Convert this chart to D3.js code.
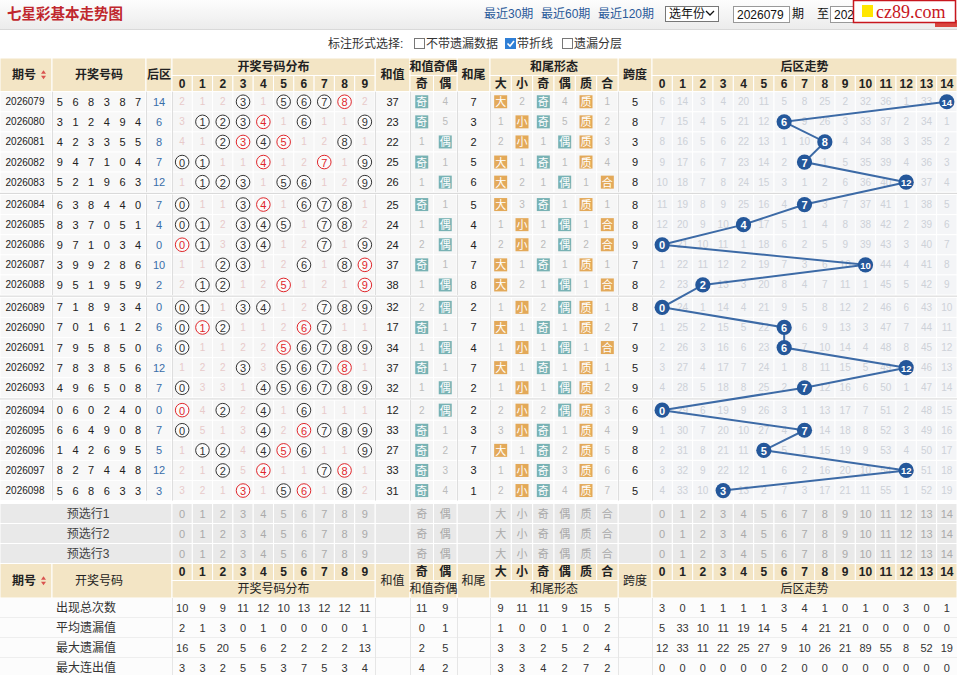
<!DOCTYPE html>
<html>
<head>
<meta charset="utf-8">
<title>七星彩基本走势图</title>
<script src="https://d3js.org/d3.v7.min.js"></script>
<style>
  body { margin: 0; background: #fff; }
  svg { display: block; }
</style>
</head>
<body>
<svg id="chart" width="957" height="675"></svg>
<script>
// 期号 / 开奖号码 / 后区
const periods = ["2026079","2026080","2026081","2026082","2026083","2026084","2026085","2026086","2026087","2026088",
                 "2026089","2026090","2026091","2026092","2026093","2026094","2026095","2026096","2026097","2026098"];
const frontNums = ["568387","312494","423355","947104","521963","638440","837051","971034","399286","951959",
                   "718934","701612","795850","783856","496508","060240","664908","142695","827448","568633"];
const backNums = [14, 6, 8, 7, 12, 7, 4, 0, 10, 2, 0, 6, 6, 12, 7, 0, 7, 5, 12, 3];

// 开奖号码分布: o = 号码, r = 红色号码, 数字 = 遗漏
const distMarks = [
  "2 1 2 o 1 o o o r 2", "3 o o o r 1 o 1 1 o", "4 1 o r o r 1 2 o 1", "o o 1 1 r 1 2 r 1 o",
  "1 o o o 1 o o 1 2 o", "o 1 1 o r 1 o o o 1", "o o 2 o o o 1 o o 2", "r o 3 o o 1 2 o 1 o",
  "1 1 o o 1 2 o 1 o r", "2 o o 1 2 r 1 2 1 r", "o o 1 o o 1 2 o o o", "o r o 1 1 2 r o 1 1",
  "o 1 1 2 2 r o o o o", "1 2 2 o 3 o o o r 1", "o 3 3 1 o o o o o o", "r 4 o 2 o 1 o 1 1 1",
  "o 5 1 3 o 2 r o o o", "1 o o 4 o r o 1 1 o", "2 1 o 5 r 1 1 o r 1", "3 2 1 r 1 o r 1 o 2"
];

const sums  = [37, 23, 22, 25, 26, 25, 24, 24, 37, 38, 32, 17, 34, 37, 32, 12, 33, 27, 33, 31];
const tails = [7, 3, 2, 5, 6, 5, 4, 4, 7, 8, 2, 7, 4, 7, 2, 2, 3, 7, 3, 1];
const spans = [5, 8, 3, 9, 8, 8, 8, 9, 7, 8, 8, 7, 9, 5, 9, 6, 9, 8, 6, 5];

const sumOE     = ["奇","奇","偶","奇","偶","奇","偶","偶","奇","偶","偶","奇","偶","奇","偶","偶","奇","奇","奇","奇"];
const sumOEMiss = [4, 5, 1, 1, 1, 1, 1, 2, 1, 1, 2, 1, 1, 1, 1, 2, 1, 2, 3, 4];
const tailBS     = ["大","小","小","大","大","大","小","小","大","大","小","大","小","大","小","小","小","大","小","小"];
const tailBSMiss = [2, 1, 2, 1, 2, 3, 1, 2, 1, 2, 1, 1, 1, 1, 1, 2, 3, 1, 1, 2];
const tailOE     = ["奇","奇","偶","奇","偶","奇","偶","偶","奇","偶","偶","奇","偶","奇","偶","偶","奇","奇","奇","奇"];
const tailOEMiss = [4, 5, 1, 1, 1, 1, 1, 2, 1, 1, 2, 1, 1, 1, 1, 2, 1, 2, 3, 4];
const tailPC     = ["质","质","质","质","合","质","合","合","质","合","质","质","合","质","质","质","质","质","质","质"];
const tailPCMiss = [1, 2, 3, 4, 1, 1, 1, 2, 1, 1, 1, 2, 1, 1, 2, 3, 4, 5, 6, 7];

// 后区走势遗漏
const trendMiss = [
  [6,14,3,4,20,11,5,8,25,2,32,36,1,33,0],
  [7,15,4,5,21,12,0,9,26,3,33,37,2,34,1],
  [8,16,5,6,22,13,1,10,0,4,34,38,3,35,2],
  [9,17,6,7,23,14,2,0,1,5,35,39,4,36,3],
  [10,18,7,8,24,15,3,1,2,6,36,40,0,37,4],
  [11,19,8,9,25,16,4,0,3,7,37,41,1,38,5],
  [12,20,9,10,0,17,5,1,4,8,38,42,2,39,6],
  [0,21,10,11,1,18,6,2,5,9,39,43,3,40,7],
  [1,22,11,12,2,19,7,3,6,10,0,44,4,41,8],
  [2,23,0,13,3,20,8,4,7,11,1,45,5,42,9],
  [0,24,1,14,4,21,9,5,8,12,2,46,6,43,10],
  [1,25,2,15,5,22,0,6,9,13,3,47,7,44,11],
  [2,26,3,16,6,23,0,7,10,14,4,48,8,45,12],
  [3,27,4,17,7,24,1,8,11,15,5,49,0,46,13],
  [4,28,5,18,8,25,2,0,12,16,6,50,1,47,14],
  [0,29,6,19,9,26,3,1,13,17,7,51,2,48,15],
  [1,30,7,20,10,27,4,0,14,18,8,52,3,49,16],
  [2,31,8,21,11,0,5,1,15,19,9,53,4,50,17],
  [3,32,9,22,12,1,6,2,16,20,10,54,0,51,18],
  [4,33,10,0,13,2,7,3,17,21,11,55,1,52,19]
];

// 统计
const statLabels = ["出现总次数","平均遗漏值","最大遗漏值","最大连出值"];
const statDist = [[10,9,9,11,12,10,13,12,12,11],[2,1,3,0,1,0,0,0,0,1],[16,5,20,5,6,2,2,2,2,13],[3,3,2,5,5,3,7,5,3,4]];
const statOE = [[11,9],[0,1],[2,5],[4,2]];
const statShape = [[9,11,11,9,15,5],[1,0,0,1,0,2],[3,3,2,5,2,4],[3,3,4,2,7,2]];
const statTrend = [[3,0,1,1,1,1,3,4,1,0,1,0,3,0,1],[5,33,10,11,19,14,5,4,21,21,0,0,0,0,0],
                   [12,33,11,22,25,27,9,10,26,21,89,55,8,52,19],[0,0,0,0,0,0,2,0,0,0,0,0,0,0,0]];
const predictLabels = ["预选行1","预选行2","预选行3"];

const digits = d3.range(10);
const trendCols = d3.range(15);
const oeLabels = ["奇","偶"];
const shapeLabels = ["大","小","奇","偶","质","合"];

const FONT = '"Liberation Sans","Noto Sans CJK SC",sans-serif';
const svg = d3.select("#chart").attr("font-family", FONT);

// 列
const xNum   = d3.scaleBand().domain(d3.range(6)).range([52, 146]);
const xDist  = d3.scaleBand().domain(digits).range([172, 375]);
const xOE    = d3.scaleBand().domain(oeLabels).range([410, 457]);
const xShape = d3.scaleBand().domain(d3.range(6)).range([490, 618]);
const xTrend = d3.scaleBand().domain(trendCols).range([652, 957]);
const single = { period: [0, 52], nums: [52, 146], back: [146, 172], sum: [375, 410], tail: [457, 490], span: [618, 652] };
const mid = k => (single[k][0] + single[k][1]) / 2;
const groupEdges = [0, 52, 146, 172, 375, 410, 457, 490, 618, 652, 957];

// 行
const rowH = 20.1, blockGap = 2.3;
const yRow = d3.scaleBand().domain(periods).range([91.7, 91.7 + rowH * periods.length]);
const rowTop = i => yRow(periods[i]) + Math.floor(i / 5) * blockGap;
const rowMid = i => rowTop(i) + rowH / 2;

function txt(g, x, y, s, o = {}) {
  return g.append("text").attr("x", x).attr("y", y)
    .attr("text-anchor", o.anchor || "middle").attr("dominant-baseline", "central")
    .attr("font-size", o.size || 11).attr("font-weight", o.weight || "normal")
    .attr("fill", o.fill || "#333").text(s);
}
function box(g, x0, x1, y0, y1, fill, stroke) {
  return g.append("rect").attr("x", x0).attr("y", y0).attr("width", x1 - x0).attr("height", y1 - y0)
    .attr("fill", fill).attr("stroke", stroke || "none").attr("stroke-width", 1);
}

// ---------- 顶部 ----------
const defs = svg.append("defs");
const topBar = svg.append("g");
const grad = defs.append("linearGradient").attr("id", "topg").attr("x1", 0).attr("x2", 0).attr("y1", 0).attr("y2", 1);
grad.append("stop").attr("offset", "0%").attr("stop-color", "#fdfdfd");
grad.append("stop").attr("offset", "100%").attr("stop-color", "#ececec");
topBar.append("rect").attr("x", 0).attr("y", 0).attr("width", 957).attr("height", 29).attr("fill", "url(#topg)");
topBar.append("line").attr("x1", 0).attr("x2", 957).attr("y1", 29.5).attr("y2", 29.5).attr("stroke", "#d9d9d9");
txt(topBar, 7, 14, "七星彩基本走势图", { anchor: "start", size: 14.5, weight: "bold", fill: "#c0272d" });
[["最近30期", 484], ["最近60期", 541], ["最近120期", 598]].forEach(([s, x]) =>
  txt(topBar, x, 14, s, { anchor: "start", size: 12, fill: "#2a5a9a" }));
box(topBar, 665.5, 718.5, 6.5, 21.5, "#fff", "#777");
txt(topBar, 669, 14, "选年份", { anchor: "start", size: 12, fill: "#111" });
topBar.append("path").attr("d", "M706,11 l4,4 l4,-4").attr("fill", "none").attr("stroke", "#111").attr("stroke-width", 1.3);
box(topBar, 733.5, 789.5, 6.5, 22.5, "#fff", "#999");
txt(topBar, 737, 14.5, "2026079", { anchor: "start", size: 12, fill: "#111" });
txt(topBar, 792, 14, "期", { anchor: "start", size: 12, fill: "#111" });
txt(topBar, 817, 14, "至", { anchor: "start", size: 12, fill: "#111" });
box(topBar, 830.5, 890, 6.5, 22.5, "#fff", "#999");
txt(topBar, 834, 14.5, "202", { anchor: "start", size: 12, fill: "#111" });
box(topBar, 935, 957, 20, 27, "#d9463f");
box(topBar, 853.5, 955.5, 0.5, 22.5, "#fff", "#c8161d").attr("stroke-width", 1.5);
box(topBar, 862, 873, 5, 17, "#ffe600");
topBar.append("text").attr("x", 876).attr("y", 17.5).attr("font-family", '"Liberation Serif","DejaVu Serif",serif')
  .attr("font-size", 18).attr("fill", "#c8161d").text("cz89.com");

txt(topBar, 328, 44, "标注形式选择:", { anchor: "start", size: 12, fill: "#333" });
[[414, "不带遗漏数据", false], [505, "带折线", true], [562, "遗漏分层", false]].forEach(([x, s, on]) => {
  box(topBar, x + 0.5, x + 10.5, 38.5, 48.5, on ? "#2f7fd6" : "#fff", on ? "#2f7fd6" : "#777");
  if (on) topBar.append("path").attr("d", `M${x + 2.5},43.5 l2.5,2.5 l4,-5`).attr("fill", "none").attr("stroke", "#fff").attr("stroke-width", 1.6);
  txt(topBar, x + 12, 44, s, { anchor: "start", size: 12, fill: "#333" });
});

// ---------- 表头 ----------
const HEAD = "#f3e5c5";
function header(yA, yB, yC, bottomLabels) {
  const g = svg.append("g");
  const spanning = [["period", "期号"], ["nums", "开奖号码"], ["back", "后区"], ["sum", "和值"], ["tail", "和尾"], ["span", "跨度"]];
  spanning.forEach(([k, s]) => {
    if (bottomLabels && (k === "nums" || k === "back")) return;
    box(g, single[k][0], single[k][1], yA, yC, HEAD, "#fff");
    const x = k === "period" ? 24 : mid(k);
    txt(g, x, (yA + yC) / 2, s, { size: 12, weight: bottomLabels && k !== "period" ? "normal" : "bold", fill: "#222" });
  });
  if (bottomLabels) {
    box(g, 52, 172, yA, yC, HEAD, "#fff");
    txt(g, 99, (yA + yC) / 2, "开奖号码", { size: 12, fill: "#222" });
  }
  // 期号排序箭头
  g.append("path").attr("d", `M41,${(yA + yC) / 2 - 1} l2.5,-3.5 l2.5,3.5 z`).attr("fill", "#d9534f");
  g.append("path").attr("d", `M41,${(yA + yC) / 2 + 1} l2.5,3.5 l2.5,-3.5 z`).attr("fill", "#d9534f");

  const groups = [
    [xDist, digits, d => d, "开奖号码分布"],
    [xOE, oeLabels, d => d, "和值奇偶"],
    [xShape, d3.range(6), d => shapeLabels[d], "和尾形态"],
    [xTrend, trendCols, d => d, "后区走势"]
  ];
  groups.forEach(([sc, dom, lab, title]) => {
    const [r0, r1] = sc.range();
    const yT = bottomLabels ? [yB, yC] : [yA, yB];
    const yS = bottomLabels ? [yA, yB] : [yB, yC];
    box(g, r0, r1, yT[0], yT[1], HEAD, "#fff");
    txt(g, (r0 + r1) / 2, (yT[0] + yT[1]) / 2, title, { size: 12, weight: bottomLabels ? "normal" : "bold", fill: "#222" });
    dom.forEach(d => {
      box(g, sc(d), sc(d) + sc.bandwidth(), yS[0], yS[1], HEAD, "#fff");
      txt(g, sc(d) + sc.bandwidth() / 2, (yS[0] + yS[1]) / 2, lab(d), { size: 12, weight: "bold", fill: "#222" });
    });
  });
  return g;
}
header(58, 75.5, 91.7, false);

// ---------- 数据行 ----------
const body = svg.append("g");
periods.forEach((p, i) => {
  const y0 = rowTop(i), y1 = y0 + rowH, ym = rowMid(i);
  Object.keys(single).forEach(k => box(body, single[k][0], single[k][1], y0, y1, "#f8f8f8", "#fff"));
  [xDist, xShape].forEach(sc => sc.domain().forEach(d => box(body, sc(d), sc(d) + sc.bandwidth(), y0, y1, "#f6f6f6", "#fff")));
  oeLabels.forEach(d => box(body, xOE(d), xOE(d) + xOE.bandwidth(), y0, y1, "#f6f6f6", "#fff"));
  trendCols.forEach(d => box(body, xTrend(d), xTrend(d) + xTrend.bandwidth(), y0, y1, "#f4f5f7", "#fff"));

  txt(body, 25, ym, p, { size: 10, fill: "#222" });
  frontNums[i].split("").forEach((n, j) => txt(body, xNum(j) + xNum.bandwidth() / 2, ym, n, { size: 11, fill: "#222" }));
  txt(body, mid("back"), ym, backNums[i], { size: 11, fill: "#3a6ea8" });

  distMarks[i].split(" ").forEach((m, d) => {
    const cx = xDist(d) + xDist.bandwidth() / 2;
    if (m === "o" || m === "r") {
      const col = m === "r" ? "#e0262b" : "#333";
      body.append("circle").attr("cx", cx).attr("cy", ym).attr("r", 6.8).attr("fill", "#fff").attr("fill-opacity", 0.6)
        .attr("stroke", col).attr("stroke-width", 1);
      txt(body, cx, ym + 0.5, d, { size: 11, fill: col });
    } else {
      txt(body, cx, ym, m, { size: 10, fill: "#e8caca" });
    }
  });

  txt(body, mid("sum"), ym, sums[i], { size: 11, fill: "#222" });
  txt(body, mid("tail"), ym, tails[i], { size: 11, fill: "#222" });
  txt(body, mid("span"), ym, spans[i], { size: 11, fill: "#222" });

  function badge(cx, s, color) {
    body.append("rect").attr("x", cx - 6.5).attr("y", ym - 6.5).attr("width", 13).attr("height", 13).attr("fill", color);
    txt(body, cx, ym + 0.5, s, { size: 11, fill: "#fff" });
  }
  oeLabels.forEach(d => {
    const cx = xOE(d) + xOE.bandwidth() / 2;
    if (d === sumOE[i]) badge(cx, d, "#78b2b4");
    else txt(body, cx, ym, sumOEMiss[i], { size: 10, fill: "#bbb" });
  });
  const shapeHit = [tailBS[i], tailBS[i], tailOE[i], tailOE[i], tailPC[i], tailPC[i]];
  const shapeMiss = [tailBSMiss[i], tailBSMiss[i], tailOEMiss[i], tailOEMiss[i], tailPCMiss[i], tailPCMiss[i]];
  d3.range(6).forEach(j => {
    const cx = xShape(j) + xShape.bandwidth() / 2;
    if (shapeLabels[j] === shapeHit[j]) badge(cx, shapeLabels[j], (j === 2 || j === 3) ? "#78b2b4" : "#e3a959");
    else txt(body, cx, ym, shapeMiss[j], { size: 10, fill: "#bbb" });
  });

  trendCols.forEach(c => {
    if (c === backNums[i]) return;
    txt(body, xTrend(c) + xTrend.bandwidth() / 2, ym, trendMiss[i][c], { size: 10, fill: "#cdd1d8" });
  });
});

// 组分隔线
groupEdges.slice(1, -1).forEach(x =>
  body.append("line").attr("x1", x + 0.5).attr("x2", x + 0.5).attr("y1", 91.7).attr("y2", rowTop(19) + rowH)
    .attr("stroke", "#dedede"));
[5, 10, 15].forEach(i => {
  const y = rowTop(i) - blockGap / 2;
  body.append("rect").attr("x", 0).attr("y", y - blockGap / 2).attr("width", 957).attr("height", blockGap).attr("fill", "#fff");
  body.append("line").attr("x1", 0).attr("x2", 957).attr("y1", y).attr("y2", y).attr("stroke", "#d4d4d4");
});

// 后区折线
const trendPts = backNums.map((v, i) => [xTrend(v) + xTrend.bandwidth() / 2, rowMid(i)]);
body.append("path").attr("d", d3.line()(trendPts)).attr("fill", "none").attr("stroke", "#3c6aa6").attr("stroke-width", 2);
trendPts.forEach(([x, y], i) => {
  body.append("circle").attr("cx", x).attr("cy", y).attr("r", 7.6).attr("fill", "#24579a");
  txt(body, x, y + 0.5, backNums[i], { size: backNums[i] > 9 ? 9.5 : 11, weight: "bold", fill: "#fff" });
});

// ---------- 预选行 ----------
const pre = svg.append("g");
const preTop = 503.5, preH = 20;
predictLabels.forEach((lab, r) => {
  const y0 = preTop + r * preH, y1 = y0 + preH, ym = y0 + preH / 2;
  box(pre, 0, 172, y0, y1, "#e9e9e9", "#fff");
  txt(pre, 88, ym, lab, { size: 12, fill: "#444" });
  ["sum", "tail", "span"].forEach(k => box(pre, single[k][0], single[k][1], y0, y1, "#e9e9e9", "#fff"));
  digits.forEach(d => {
    box(pre, xDist(d), xDist(d) + xDist.bandwidth(), y0, y1, "#e9e9e9", "#fff");
    txt(pre, xDist(d) + xDist.bandwidth() / 2, ym, d, { size: 11, fill: "#aaa" });
  });
  oeLabels.forEach(d => {
    box(pre, xOE(d), xOE(d) + xOE.bandwidth(), y0, y1, "#e9e9e9", "#fff");
    txt(pre, xOE(d) + xOE.bandwidth() / 2, ym, d, { size: 11, fill: "#aaa" });
  });
  d3.range(6).forEach(j => {
    box(pre, xShape(j), xShape(j) + xShape.bandwidth(), y0, y1, "#e9e9e9", "#fff");
    txt(pre, xShape(j) + xShape.bandwidth() / 2, ym, shapeLabels[j], { size: 11, fill: "#aaa" });
  });
  trendCols.forEach(c => {
    box(pre, xTrend(c), xTrend(c) + xTrend.bandwidth(), y0, y1, "#e9e9e9", "#fff");
    txt(pre, xTrend(c) + xTrend.bandwidth() / 2, ym, c, { size: 11, fill: "#aaa" });
  });
});

// ---------- 底部表头 ----------
header(563.5, 580.5, 598, true);

// ---------- 统计 ----------
const st = svg.append("g");
const stTop = 598, stH = 20;
statLabels.forEach((lab, r) => {
  const y0 = stTop + r * stH, y1 = y0 + stH, ym = y0 + stH / 2;
  box(st, 0, 957, y0, y1, "#fcfcfc");
  st.append("line").attr("x1", 0).attr("x2", 957).attr("y1", y1 - 0.5).attr("y2", y1 - 0.5).attr("stroke", "#eee");
  txt(st, 86, ym, lab, { size: 12, fill: "#333" });
  digits.forEach(d => txt(st, xDist(d) + xDist.bandwidth() / 2, ym, statDist[r][d], { size: 11 }));
  oeLabels.forEach((d, j) => txt(st, xOE(d) + xOE.bandwidth() / 2, ym, statOE[r][j], { size: 11 }));
  d3.range(6).forEach(j => txt(st, xShape(j) + xShape.bandwidth() / 2, ym, statShape[r][j], { size: 11 }));
  trendCols.forEach(c => txt(st, xTrend(c) + xTrend.bandwidth() / 2, ym, statTrend[r][c], { size: 11 }));
});
[172, 375, 410, 457, 490, 618, 652].forEach(x =>
  st.append("line").attr("x1", x + 0.5).attr("x2", x + 0.5).attr("y1", stTop).attr("y2", 675).attr("stroke", "#e6e6e6"));
</script>
</body>
</html>
